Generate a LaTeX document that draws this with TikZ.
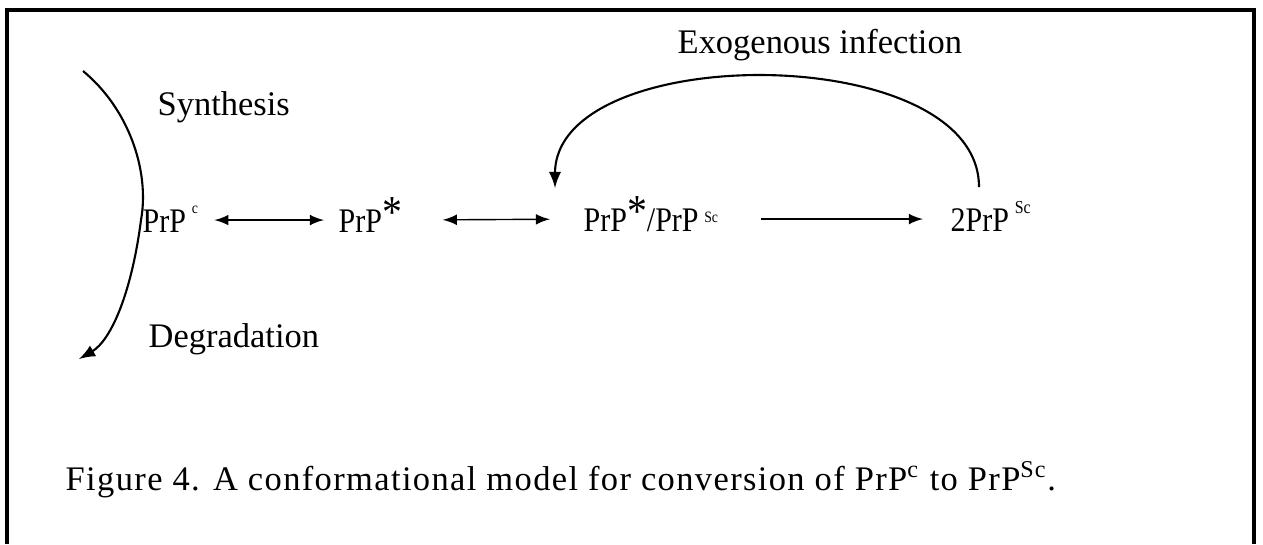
\documentclass[tikz,border=0pt]{standalone}
\usepackage{fontspec}
\setmainfont{Liberation Serif}
\usepackage{tikz}
\usetikzlibrary{positioning}

\begin{document}
\begin{tikzpicture}[x=0.01cm, y=-0.01cm, >=latex,
    txt/.style={anchor=base west, inner sep=0pt, font=\fontsize{9.8}{12}\selectfont},
    species/.style={txt, text height=6.8pt, text depth=0pt,
      font=\fontsize{9.8}{12}\selectfont\addfontfeatures{FakeStretch=0.87}},
    conv/.style={thin, <->},
    loopline/.style={semithick, ->},
    frameline/.style={line width=1pt}
  ]
  % small raised marks used in the species names
  \def\supc{\,\raisebox{5.2pt}{\fontsize{4.5}{5}\selectfont c}}
  \def\supsc{\,\raisebox{2.3pt}{\fontsize{4.5}{5}\selectfont Sc}}
  \def\supSc{\,\raisebox{5pt}{\fontsize{5.2}{6}\selectfont Sc}}
  \def\bigstar{\raisebox{1.3pt}{\fontsize{13}{14}\selectfont *}}

  \useasboundingbox (0,0) rectangle (1263,544);

  % -- 1. FRAME (open at the bottom) --
  \draw[frameline] (7,544) -- (7,10) -- (1254,10) -- (1254,544);

  % -- 2. THE CONVERSION ROW --
  \node[species] (PrPc) at (142,232) {PrP\supc};
  \node[species] (PrPstar) at (338,232) {PrP\bigstar};
  \node[species] (mix) at (583,231) {PrP\bigstar/PrP\supsc};
  \node[species] (twoSc) at (950,231) {2PrP\supSc};

  \draw[conv, shorten <=4.5pt, shorten >=4pt] (PrPc.east) -- (PrPstar.west);
  \draw[conv, shorten <=11.4pt, shorten >=9.4pt] (PrPstar.east) -- (mix.west);
  \draw[thin, ->, shorten <=12pt, shorten >=7.7pt] (mix.east) -- (twoSc.west);

  % -- 3. SYNTHESIS / DEGRADATION --
  \node[txt] (syn) at (157,115) {Synthesis};
  \node[txt] (deg) at (148,347) {Degradation};
  \coordinate (synStart) at (83,71);
  \coordinate (degEnd) at (79,359);
  \draw[loopline] (synStart) .. controls (128,108) and (150,170) .. (141,220)
    .. controls (132,290) and (112,340) .. (degEnd);

  % -- 4. EXOGENOUS INFECTION --
  \node[txt] (exo) at (677,53) {Exogenous infection};
  \coordinate (infStart) at (979,187);
  \coordinate (infEnd) at (555,188);
  \draw[loopline] (infStart) .. controls (979,40) and (555,40) .. (infEnd);

  % -- 5. CAPTION --
  \node[txt, font=\fontsize{9.8}{12}\selectfont\addfontfeatures{LetterSpace=4}] (caption) at (65,490)
    {Figure 4. A conformational model for conversion of PrP\textsuperscript{c} to PrP\textsuperscript{Sc}.};
\end{tikzpicture}
\end{document}
